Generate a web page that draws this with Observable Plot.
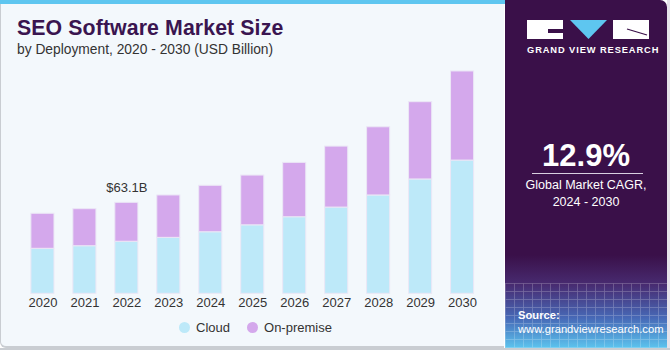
<!DOCTYPE html>
<html>
<head>
<meta charset="utf-8">
<script src="https://cdn.jsdelivr.net/npm/d3@7"></script>
<script src="https://cdn.jsdelivr.net/npm/@observablehq/plot@0.6"></script>
<style>
  html, body { margin: 0; padding: 0; }
  body { width: 670px; height: 350px; position: relative; overflow: hidden; background: #ffffff; font-family: "Liberation Sans", Arial, sans-serif; }
  #card { position: absolute; left: 0; top: 0; width: 504px; height: 348px; background: #f3f8fc; border-left: 1px solid #c9cdd2; border-bottom: 2px solid #c9cdd2; border-bottom-left-radius: 6px; box-sizing: border-box; }
  #stripe { position: absolute; left: 0; top: 0; width: 505px; height: 4px; background: #5ec6f0; }
  #title { position: absolute; left: 17px; top: 16px; font-size: 21.3px; font-weight: bold; color: #3a1550; letter-spacing: 0.1px; }
  #subtitle { position: absolute; left: 17px; top: 42px; font-size: 13.8px; color: #333; }
  #chart { position: absolute; left: 0; top: 50px; }
  #legend { position: absolute; top: 320px; left: 0; width: 505px; display: flex; justify-content: center; gap: 17px; font-size: 13px; color: #333; padding-left: 6px; box-sizing: border-box; }
  #legend .item { display: flex; align-items: center; gap: 6px; }
  #legend .dot { width: 11px; height: 11px; border-radius: 50%; display: inline-block; }
  #panel { position: absolute; left: 505px; top: 0; width: 162px; height: 348px; background: #3a1049; border-top-right-radius: 7px; overflow: hidden; }
  #panelbottom { position: absolute; left: 0; top: 255px; width: 162px; height: 93px;
    background: linear-gradient(to bottom, rgba(58,16,73,0) 0%, rgba(78,55,130,0.7) 32%, rgba(72,115,195,0.9) 68%, #5cc4ee 100%); }
  #grid { position: absolute; left: 0; top: 283px; width: 162px; height: 65px; opacity: 0.25;
    background-image: repeating-linear-gradient(to right, rgba(255,255,255,0.8) 0 1px, transparent 1px 9px), repeating-linear-gradient(to bottom, rgba(255,255,255,0.8) 0 1px, transparent 1px 8px); }
  #edge { position: absolute; left: 667px; top: 0; width: 3px; height: 350px; background: #e6e3ea; }
  #bottomline { position: absolute; left: 0; top: 348px; width: 670px; height: 2px; background: #c9cdd2; }
  .logoblock { position: absolute; background: #fff; }
  #gvr { position: absolute; left: 22px; top: 45px; width: 122px; text-align: center; font-size: 9.3px; font-weight: bold; color: #fff; letter-spacing: 0.9px; white-space: nowrap; }
  #cagr { position: absolute; left: 0; top: 138px; width: 162px; text-align: center; font-size: 31px; font-weight: bold; color: #fff; }
  #rule { position: absolute; left: 27px; top: 173px; width: 111px; height: 1px; background: #d8cfe0; }
  #cagrtxt { position: absolute; left: 0; top: 177px; width: 162px; text-align: center; font-size: 12.5px; color: #fff; line-height: 16.5px; }
  #source { position: absolute; left: 13px; top: 308px; font-size: 11.2px; color: #fff; line-height: 14px; white-space: nowrap; }
</style>
</head>
<body>
<div id="card"></div>
<div id="stripe"></div>
<div id="title">SEO Software Market Size</div>
<div id="subtitle">by Deployment, 2020 - 2030 (USD Billion)</div>
<div id="chart"></div>
<div id="legend"></div>
<div id="panel">
  <div id="panelbottom"></div>
  <div id="grid"></div>
  <div class="logoblock" style="left:22px;top:20px;width:36px;height:19px;"></div>
  <div style="position:absolute;left:43px;top:29px;width:15px;height:4px;background:#3a1049;"></div>
  <svg style="position:absolute;left:65px;top:20px;" width="37" height="20"><polygon points="0,0 37,0 18.5,19" fill="#5ec6f0"/></svg>
  <div class="logoblock" style="left:108px;top:20px;width:36px;height:19px;"></div>
  <svg style="position:absolute;left:108px;top:20px;" width="36" height="19"><line x1="14" y1="9" x2="34" y2="15" stroke="#3a1049" stroke-width="1.3"/></svg>
  <div id="gvr">GRAND VIEW RESEARCH</div>
  <div id="cagr">12.9%</div>
  <div id="rule"></div>
  <div id="cagrtxt">Global Market CAGR,<br>2024 - 2030</div>
  <div id="source"><b>Source:</b><br>www.grandviewresearch.com</div>
</div>
<div id="edge"></div>
<div id="bottomline"></div>
<script>
const years = [2020, 2021, 2022, 2023, 2024, 2025, 2026, 2027, 2028, 2029, 2030];
const cloud = [31.2, 33.0, 36.1, 38.8, 42.7, 47.5, 53.1, 59.8, 68.2, 79.3, 92.4];
const onPremise = [24.3, 25.7, 27.0, 29.4, 32.2, 34.5, 37.7, 42.3, 47.3, 53.6, 61.8];
const segments = ["Cloud", "On-premise"];
const colors = ["#bde9f9", "#d4a8ec"];
const labelYears = [2022];

const data = years.flatMap((y, i) => [
  {year: y, segment: "Cloud", value: cloud[i]},
  {year: y, segment: "On-premise", value: onPremise[i]}
]);
const labels = labelYears.map(y => {
  const i = years.indexOf(y);
  const total = +(cloud[i] + onPremise[i]).toFixed(1);
  return {year: y, total, text: "$" + total.toFixed(1) + "B"};
});

const chart = Plot.plot({
  width: 505,
  height: 265,
  marginLeft: 12,
  marginRight: 12.5,
  marginTop: 12.6,
  marginBottom: 21.7,
  style: {background: "transparent", fontFamily: "'Liberation Sans', Arial, sans-serif", fontSize: "13px", color: "#333"},
  x: {type: "band", domain: years, padding: 0.45, round: false, label: null, tickSize: 0, tickPadding: 4, tickFormat: d => String(d)},
  y: {domain: [0, 160], axis: null},
  color: {domain: segments, range: colors},
  marks: [
    Plot.barY(data, {x: "year", y: "value", fill: "segment", stroke: "#ebe7f6", strokeWidth: 1}),
    Plot.text(labels, {x: "year", y: "total", text: "text", dy: -15, fontSize: 13, fill: "#333"})
  ]
});
document.getElementById("chart").appendChild(chart);

const legend = document.getElementById("legend");
segments.forEach((s, i) => {
  const item = document.createElement("div");
  item.className = "item";
  item.innerHTML = `<span class="dot" style="background:${colors[i]}"></span><span>${s}</span>`;
  legend.appendChild(item);
});
</script>
</body>
</html>
